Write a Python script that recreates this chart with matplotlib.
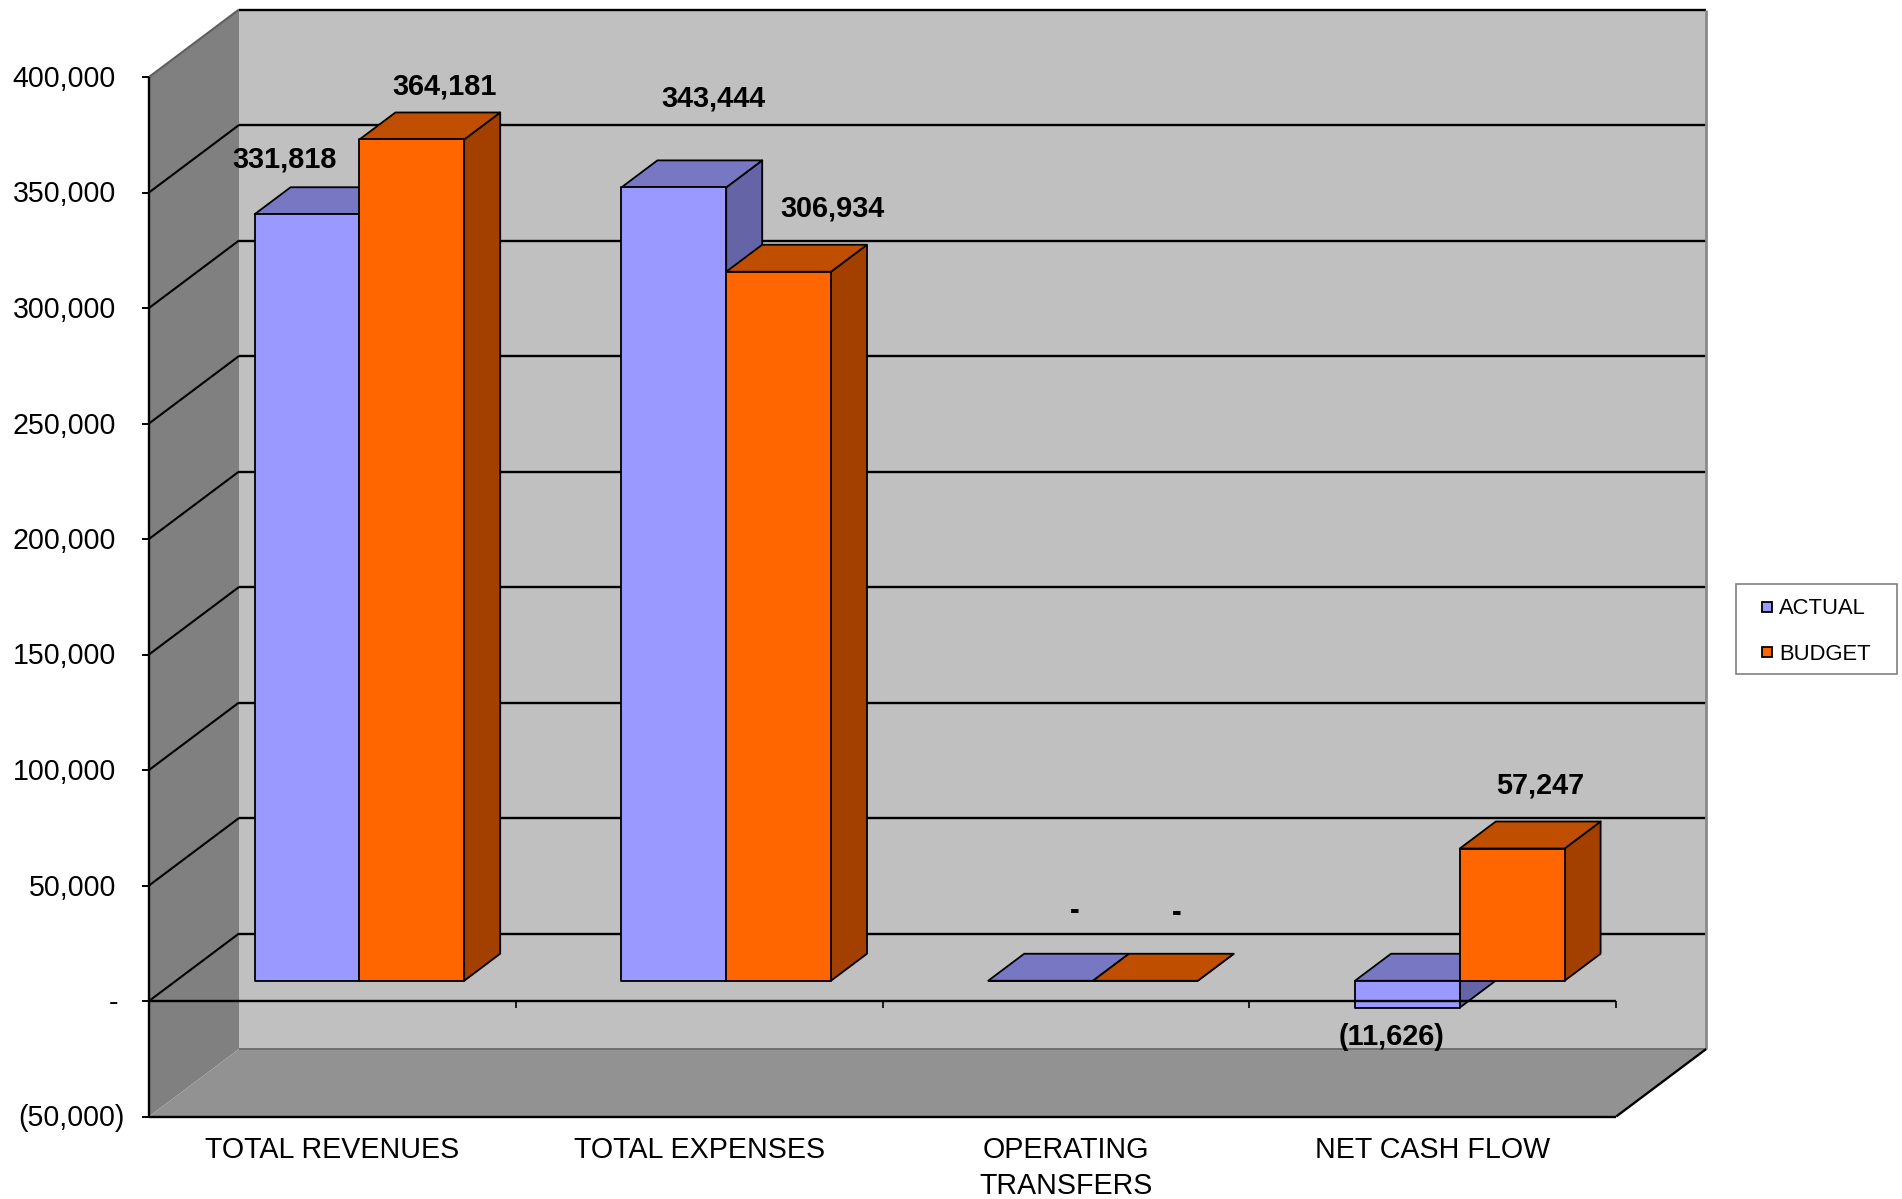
import matplotlib
matplotlib.use("Agg")
import matplotlib.pyplot as plt
from matplotlib.patches import Polygon, Rectangle

# ---- data -------------------------------------------------------------
categories = ["TOTAL REVENUES", "TOTAL EXPENSES", "OPERATING\nTRANSFERS", "NET CASH FLOW"]
series_names = ["ACTUAL", "BUDGET"]
actual = [331818, 343444, 0, -11626]
budget = [364181, 306934, 0, 57247]
value_ticks = [-50000, 0, 50000, 100000, 150000, 200000, 250000, 300000, 350000, 400000]

# ---- styling ----------------------------------------------------------
FONT = "Liberation Sans"
FACE = {"ACTUAL": ("#9999FF", "#7777C4", "#6464A6"),   # front, top, side
        "BUDGET": ("#FF6600", "#C04E00", "#A34000")}
WALL_BACK, WALL_LEFT, FLOOR = "#C0C0C0", "#808080", "#929292"

# label offsets in pixels (x, baseline y) from the bar's front top/bottom edge
LABEL_OFFSETS = {"ACTUAL": [(-22, 47), (40, 81), (34, 62), (-16, -37)],
                 "BUDGET": [(33, 45), (54, 55), (31, 60), (28, 55)]}

# ---- canvas & projection ----------------------------------------------
W, H, DPI = 1902, 1199, 100
fig = plt.figure(figsize=(W / DPI, H / DPI), dpi=DPI)
ax = fig.add_axes([0, 0, 1, 1])
ax.axis("off")

X0_PX = 149.0          # front value axis, px from left
SLOT_PX = 366.8        # width of one category slot
Y0_PX = 1001.0         # zero line, px from top
PX_PER_UNIT = 115.5 / 50000
DEPTH_PX = (90.0, 67.5)

ax.set_xlim(-X0_PX / SLOT_PX, (W - X0_PX) / SLOT_PX)
ax.set_ylim(-(H - Y0_PX) / PX_PER_UNIT, Y0_PX / PX_PER_UNIT)
DX = DEPTH_PX[0] / SLOT_PX
DY = DEPTH_PX[1] / PX_PER_UNIT

VMIN, VMAX = value_ticks[0], value_ticks[-1]
NCAT = len(categories)
D0, D1 = 0.3, 0.7                 # bar depth range
BAR_W = 1 / 3.5                   # gap width 150 %


def P(c, v, d=0.0):
    return (c + d * DX, v + d * DY)


def poly(pts, fc, z, ec="black", lw=1.3):
    ax.add_patch(Polygon(pts, closed=True, facecolor=fc, edgecolor=ec,
                         linewidth=lw, joinstyle="round", zorder=z))


def line(pts, color="black", lw=1.4, z=2):
    xs, ys = zip(*pts)
    ax.plot(xs, ys, color=color, lw=lw, zorder=z, solid_capstyle="butt")


def fmt(v):
    if v == 0:
        return "-"
    if v < 0:
        return f"({-v:,.0f})"
    return f"{v:,.0f}"


# ---- walls and floor --------------------------------------------------
poly([P(0, VMIN, 1), P(NCAT, VMIN, 1), P(NCAT, VMAX, 1), P(0, VMAX, 1)], WALL_BACK, 1, ec="none")
poly([P(0, VMIN, 0), P(0, VMIN, 1), P(0, VMAX, 1), P(0, VMAX, 0)], WALL_LEFT, 1, ec="none")
poly([P(0, VMIN, 0), P(NCAT, VMIN, 0), P(NCAT, VMIN, 1), P(0, VMIN, 1)], FLOOR, 1, ec="none")

for v in value_ticks[1:]:
    diag_col = "#5f5f5f" if v == VMAX else "black"
    line([P(0, v, 0), P(0, v, 1)], color=diag_col, lw=1.5)
    line([P(0, v, 1), P(NCAT, v, 1)], lw=1.7)

line([P(0, VMIN, 1), P(NCAT, VMIN, 1)], color="#6e6e6e", lw=1.4)
line([P(NCAT, VMIN, 1), P(NCAT, VMAX, 1)], color="#8a8a8a", lw=2.0)
line([P(0, VMIN, 0), P(NCAT, VMIN, 0)], lw=1.7, z=3)
line([P(NCAT, VMIN, 0), P(NCAT, VMIN, 1)], lw=1.7, z=3)

# value axis with ticks and labels
line([P(0, VMIN, 0), P(0, VMAX, 0)], lw=1.7, z=3)
tick_c = 7 / SLOT_PX
for v in value_ticks:
    line([P(-tick_c, v), P(0, v)], lw=1.4, z=3)
    s = fmt(v)
    dx = -24 if v < 0 else (-31 if v == 0 else -33)
    ax.annotate(s, xy=P(0, v), xytext=(dx, -10), textcoords="offset pixels",
                ha="right", va="baseline", fontsize=20.6, family=FONT, zorder=5)

# ---- bars -------------------------------------------------------------
for i in range(NCAT):
    for s, (name, vals) in enumerate(zip(series_names, [actual, budget])):
        v = vals[i]
        front, top, side = FACE[name]
        x0 = i + 0.5 - BAR_W + s * BAR_W
        x1 = x0 + BAR_W
        vb, vt = min(0, v), max(0, v)
        z = 4 + 0.1 * (i * 2 + s)
        poly([P(x1, vb, D0), P(x1, vt, D0), P(x1, vt, D1), P(x1, vb, D1)], side, z)
        poly([P(x0, vt, D0), P(x1, vt, D0), P(x1, vt, D1), P(x0, vt, D1)], top, z)
        poly([P(x0, vb, D0), P(x1, vb, D0), P(x1, vt, D0), P(x0, vt, D0)], front, z)

        ox, oy = LABEL_OFFSETS[name][i]
        ax.annotate(fmt(v), xy=P((x0 + x1) / 2, v, D0), xytext=(ox, oy),
                    textcoords="offset pixels", ha="center", va="baseline",
                    fontsize=20.8, fontweight="bold", family=FONT, zorder=8)

# category axis (front plane, zero line) drawn over the bars
line([P(0, 0, 0), P(NCAT, 0, 0)], lw=1.7, z=7)
tick_v = 7 / PX_PER_UNIT
for c in range(NCAT + 1):
    line([P(c, 0), P(c, -tick_v)], lw=1.2, z=7)

# category names, one baseline per text line
for i, cat in enumerate(categories):
    for k, part in enumerate(cat.split("\n")):
        ax.annotate(part, xy=P(i + 0.5, VMIN), xytext=(0, -42 - 35 * k),
                    textcoords="offset pixels", ha="center", va="baseline",
                    fontsize=20.6, family=FONT, zorder=5)

# ---- legend -----------------------------------------------------------
def fx(px):
    return px / W


def fy(py):
    return 1 - py / H


fig.patches.append(Rectangle((fx(1736), fy(674)), fx(1897) - fx(1736), fy(584) - fy(674),
                             transform=fig.transFigure, facecolor="white",
                             edgecolor="#808080", linewidth=1.2, zorder=10))
for k, name in enumerate(series_names):
    yc = 607 + 45 * k
    fig.patches.append(Rectangle((fx(1762), fy(yc + 5)), fx(10), 10 / H,
                                 transform=fig.transFigure, facecolor=FACE[name][0],
                                 edgecolor="black", linewidth=1.3, zorder=11))
    fig.text(fx(1779), fy(yc + 7.5), name, ha="left", va="baseline",
             fontsize=15.8, family=FONT, zorder=12)

fig.savefig("out.png", dpi=DPI)
